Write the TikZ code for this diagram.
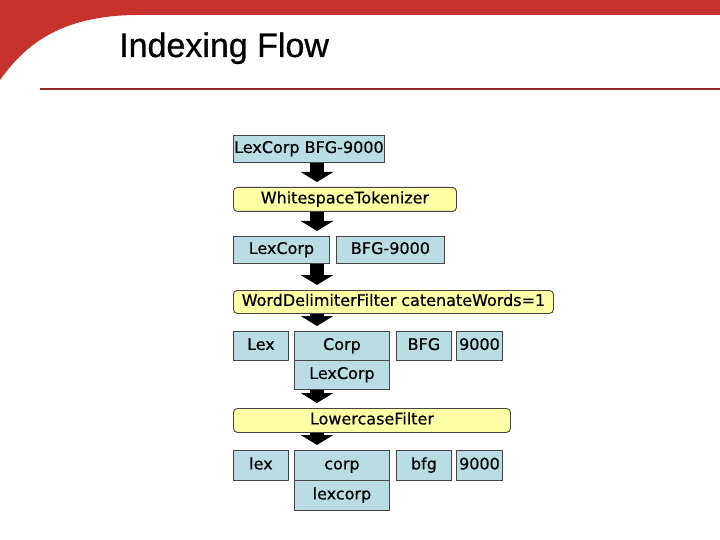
\documentclass[tikz,border=0pt]{standalone}
\usepackage{fontspec}
\setmainfont{Liberation Sans}
\newfontfamily\titlefont{Liberation Sans}[FakeBold=0.8]
\newfontfamily\boxfont{DejaVu Sans}[FakeBold=0.5]
\usetikzlibrary{arrows.meta}
\definecolor{bandred}{HTML}{C8322D}
\definecolor{rulered}{HTML}{8E2A2A}
\definecolor{boxblue}{HTML}{B9DDE3}
\definecolor{filtyellow}{HTML}{FFFFA6}
\definecolor{edgegray}{HTML}{454545}
\tikzset{
  boxtext/.style={inner sep=0pt, anchor=north west, text height=11.5pt, text depth=3.5pt,
    font=\boxfont\fontsize{16}{18}\selectfont},
  tokbox/.style={boxtext, draw=edgegray, line width=0.9pt, fill=boxblue},
  filtbox/.style={boxtext, draw=edgegray, line width=0.9pt, fill=filtyellow, rounded corners=4pt},
  flowarrow/.style={line width=14pt, black, -{Triangle[width=32pt,length=10pt]}, shorten >=5pt},
}
\begin{document}
\begin{tikzpicture}[x=1pt,y=-1pt]
\useasboundingbox (0,0) rectangle (720,540);
\fill[white] (0,0) rectangle (720,540);
% header band
\fill[bandred] (0,0) -- (720,0) -- (720,15) -- (135,15) .. controls (60,16) and (25,45) .. (0,80) -- cycle;
\node[anchor=base west, inner sep=0pt, font=\titlefont\fontsize{34}{40}\selectfont] (title) at (119,57) {Indexing Flow};
\draw[rulered, line width=2pt] (40,89) -- (720,89);
% boxes
\node[tokbox, minimum width=151pt, minimum height=27pt] (src) at (233,135) {LexCorp BFG-9000};
\node[filtbox, minimum width=223pt, minimum height=24pt] (ws) at (233,187) {WhitespaceTokenizer};
\node[tokbox, minimum width=96pt, minimum height=27pt] (t1) at (233,236) {LexCorp};
\node[tokbox, minimum width=108pt, minimum height=27pt] (t2) at (336,236) {BFG-9000};
\node[filtbox, minimum width=320pt, minimum height=23pt] (wd) at (233,290) {WordDelimiterFilter catenateWords=1};
\node[tokbox, minimum width=55pt, minimum height=29pt] (w1) at (233,331) {Lex};
\node[tokbox, minimum width=95pt, minimum height=29pt] (w2) at (294,331) {Corp};
\node[tokbox, minimum width=95pt, minimum height=29pt] (w2b) at (294,360) {LexCorp};
\node[tokbox, minimum width=55pt, minimum height=29pt] (w3) at (396,331) {BFG};
\node[tokbox, minimum width=46pt, minimum height=29pt] (w4) at (456,331) {9000};
\node[filtbox, minimum width=277pt, minimum height=24pt] (lc) at (233,408) {LowercaseFilter};
\node[tokbox, minimum width=55pt, minimum height=30pt] (l1) at (233,450) {lex};
\node[tokbox, minimum width=95pt, minimum height=30pt] (l2) at (294,450) {corp};
\node[tokbox, minimum width=95pt, minimum height=30pt] (l2b) at (294,480) {lexcorp};
\node[tokbox, minimum width=55pt, minimum height=30pt] (l3) at (396,450) {bfg};
\node[tokbox, minimum width=46pt, minimum height=30pt] (l4) at (456,450) {9000};
% arrows
\coordinate (ax) at (317,0);
\draw[flowarrow] (src.south -| ax) -- (ws.north -| ax);
\draw[flowarrow] (ws.south -| ax) -- (t1.north -| ax);
\draw[flowarrow] (t1.south -| ax) -- (wd.north -| ax);
\draw[flowarrow] (wd.south -| ax) -- (w2.north -| ax);
\draw[flowarrow] (w2b.south -| ax) -- (lc.north -| ax);
\draw[flowarrow] (lc.south -| ax) -- (l2.north -| ax);
\end{tikzpicture}
\end{document}
